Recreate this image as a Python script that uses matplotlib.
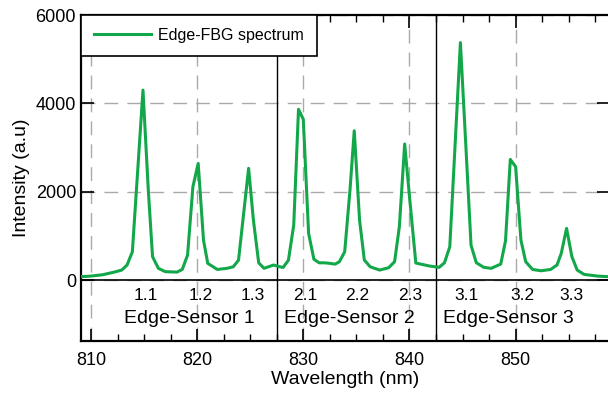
import matplotlib
matplotlib.use("Agg")
import matplotlib.pyplot as plt
from matplotlib.ticker import MultipleLocator

plt.rcParams['font.family'] = ['Liberation Sans', 'DejaVu Sans']

# Edge-FBG spectrum
wavelength = [809.0, 810.0, 811.1, 812.2, 812.9, 813.4, 813.9, 814.9, 815.4, 815.8,
              816.35, 817.0, 818.1, 818.6, 819.1, 819.6, 820.1, 820.6, 821.0, 821.9,
              822.8, 823.4, 823.9, 824.85, 825.3, 825.8, 826.3, 827.2, 827.8, 828.1,
              828.6, 829.1, 829.55, 830.0, 830.5, 831.0, 831.5, 832.0, 832.5, 833.0,
              833.4, 833.9, 834.4, 834.8, 835.3, 835.75, 836.3, 837.2, 838.05, 838.6,
              839.05, 839.55, 840.0, 840.6, 841.9, 842.8, 843.3, 843.8, 844.8, 845.4,
              845.8, 846.3, 847.0, 847.7, 848.6, 849.05, 849.5, 850.0, 850.5, 850.95,
              851.6, 852.4, 853.3, 853.9, 854.3, 854.8, 855.3, 855.8, 856.45, 857.7,
              858.8]
intensity = [75, 90, 120, 180, 226, 340, 640, 4300, 2040, 530,
             265, 190, 180, 240, 565, 2110, 2640, 905, 378, 240,
             265, 300, 450, 2530, 1360, 390, 265, 340, 300, 285,
             450, 1245, 3865, 3640, 1057, 470, 390, 390, 378, 360,
             415, 640, 2040, 3380, 1360, 453, 300, 226, 280, 415,
             1210, 3080, 1900, 385, 317, 288, 392, 755, 5375, 2640,
             790, 392, 288, 265, 362, 890, 2730, 2565, 905, 415,
             240, 210, 240, 340, 605, 1170, 530, 226, 128, 90,
             75]

# sensor boundaries and labels
sensor_bounds = [827.5, 842.5]
peak_labels = ['1.1', '1.2', '1.3', '2.1', '2.2', '2.3', '3.1', '3.2', '3.3']
peak_label_x = [815.2, 820.3, 825.2, 830.2, 835.1, 840.1, 845.4, 850.6, 855.3]
sensor_names = ['Edge-Sensor 1', 'Edge-Sensor 2', 'Edge-Sensor 3']
sensor_name_x = [819.3, 834.3, 849.3]

fig = plt.figure(figsize=(6.08, 3.93), dpi=100)
ax = fig.add_axes([0.1332, 0.1323, 0.8685, 0.8295])

ax.plot(wavelength, intensity, color='#12a84a', linewidth=2.2, label='Edge-FBG spectrum', zorder=3)

ax.axhline(0, color='black', linewidth=1.2, zorder=2)
for b in sensor_bounds:
    ax.axvline(b, color='black', linewidth=1.0, zorder=2)

for lab, xp in zip(peak_labels, peak_label_x):
    ax.text(xp, -340, lab, ha='center', va='center', fontsize=12.5)
for lab, xp in zip(sensor_names, sensor_name_x):
    ax.text(xp, -860, lab, ha='center', va='center', fontsize=14)

ax.set_xlim(809.06, 858.8)
ax.set_ylim(-1380, 6000)
ax.set_yticks([0, 2000, 4000, 6000])
ax.xaxis.set_major_locator(MultipleLocator(10))
ax.xaxis.set_minor_locator(MultipleLocator(2.5))

ax.grid(True, which='major', color='#aaaaaa', linestyle=(0, (10, 6.5)), linewidth=1.0)
ax.set_axisbelow(True)

ax.tick_params(axis='both', which='both', direction='in', top=True, right=True, labelsize=13)
ax.tick_params(which='major', length=9, width=1.2)
ax.tick_params(which='minor', length=5, width=1.0)
ax.tick_params(axis='x', pad=8)
for s in ax.spines.values():
    s.set_linewidth(1.6)

ax.set_xlabel('Wavelength (nm)', fontsize=14, labelpad=1)
ax.set_ylabel('Intensity (a.u)', fontsize=14)

leg = ax.legend(loc='upper left', fontsize=11.5, borderaxespad=0, fancybox=False,
                edgecolor='black', framealpha=1, handlelength=3.6, handletextpad=0.45,
                borderpad=0.8)
leg.get_frame().set_linewidth(1.2)
leg.set_zorder(5)

fig.savefig('out.png', dpi=100)
